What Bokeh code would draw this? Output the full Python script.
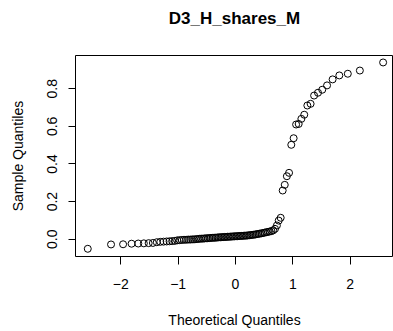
from bokeh.plotting import figure
from bokeh.models import FixedTicker, Range1d, LinearAxis
from bokeh.embed import file_html
from bokeh.resources import INLINE

# theoretical normal quantiles (n = 100), lower half; upper half mirrors
theo_lower = [-2.576, -2.170, -1.960, -1.812, -1.695, -1.598, -1.514, -1.440, -1.372, -1.311,
              -1.254, -1.200, -1.150, -1.103, -1.058, -1.015, -0.974, -0.935, -0.897, -0.860,
              -0.824, -0.789, -0.755, -0.723, -0.690, -0.659, -0.628, -0.598, -0.568, -0.539,
              -0.510, -0.482, -0.454, -0.426, -0.399, -0.372, -0.345, -0.319, -0.292, -0.266,
              -0.240, -0.215, -0.189, -0.164, -0.138, -0.113, -0.088, -0.063, -0.038, -0.013]
theoretical = theo_lower + [-v for v in reversed(theo_lower)]

sample = [-0.051, -0.028, -0.027, -0.024, -0.023, -0.022, -0.021, -0.020, -0.016, -0.014,
          -0.013, -0.012, -0.011, -0.010, -0.009, -0.006, -0.005, -0.004, -0.003, -0.003,
          -0.002, -0.002, -0.001, -0.001, 0.000, 0.001, 0.002, 0.003, 0.003, 0.004,
          0.005, 0.005, 0.006, 0.007, 0.007, 0.008, 0.008, 0.009, 0.010, 0.010,
          0.011, 0.011, 0.012, 0.012, 0.013, 0.013, 0.014, 0.014, 0.015, 0.015,
          0.016, 0.016, 0.017, 0.017, 0.018, 0.018, 0.019, 0.019, 0.020, 0.021,
          0.022, 0.023, 0.024, 0.025, 0.027, 0.028, 0.030, 0.031, 0.033, 0.035,
          0.037, 0.039, 0.041, 0.043, 0.047, 0.055, 0.073, 0.099, 0.114, 0.259,
          0.289, 0.335, 0.353, 0.502, 0.537, 0.610, 0.613, 0.640, 0.662, 0.711,
          0.720, 0.764, 0.779, 0.795, 0.818, 0.850, 0.871, 0.880, 0.897, 0.940]

x_ticks = [-2, -1, 0, 1, 2]
y_ticks = [0.0, 0.2, 0.4, 0.6, 0.8]
y_tick_labels = {0.0: "0.0", 0.2: "0.2", 0.4: "0.4", 0.6: "0.6", 0.8: "0.8"}
title_text = "D3_H_shares_M"

FONT = "Liberation Sans"

p = figure(width=393, height=331, output_backend="svg", toolbar_location=None,
           x_range=Range1d(-2.79, 2.757), y_range=Range1d(-0.092, 0.977),
           min_border_left=75, min_border_right=0, min_border_top=55, min_border_bottom=75)

p.scatter(theoretical, sample, size=7, marker="circle", fill_color=None,
          line_color="black", line_width=1)

xa = p.below[0]
ya = p.left[0]

# title drawn as the label of a tick-less axis above the frame, centred on the frame
top = LinearAxis(ticker=FixedTicker(ticks=[]), axis_label=title_text,
                 axis_line_color=None, major_tick_out=0, major_tick_in=0,
                 minor_tick_line_color=None, major_label_standoff=0,
                 axis_label_standoff=28, axis_label_text_font=FONT,
                 axis_label_text_font_size="17px", axis_label_text_font_style="bold",
                 axis_label_text_color="black")
p.add_layout(top, "above")

p.xgrid.visible = False
p.ygrid.visible = False
p.outline_line_color = "black"
p.outline_line_width = 1
p.background_fill_color = "white"
p.border_fill_color = "white"

xa.ticker = FixedTicker(ticks=x_ticks)
xa.axis_label = "Theoretical Quantiles"
ya.ticker = FixedTicker(ticks=y_ticks)
ya.major_label_overrides = y_tick_labels
ya.axis_label = "Sample Quantiles"
ya.major_label_orientation = "vertical"

for ax in (xa, ya):
    ax.axis_line_color = None
    ax.major_tick_line_color = "black"
    ax.major_tick_in = 0
    ax.minor_tick_line_color = None
    ax.major_label_text_font = FONT
    ax.major_label_text_font_size = "14px"
    ax.major_label_text_color = "black"
    ax.axis_label_text_font = FONT
    ax.axis_label_text_font_size = "14px"
    ax.axis_label_text_font_style = "normal"
    ax.axis_label_text_color = "black"

xa.major_tick_out = 8
xa.major_label_standoff = 14
xa.axis_label_standoff = 20
ya.major_tick_out = 7
ya.major_label_standoff = 11
ya.axis_label_standoff = 19

open("out.html", "w").write(file_html(p, INLINE))
